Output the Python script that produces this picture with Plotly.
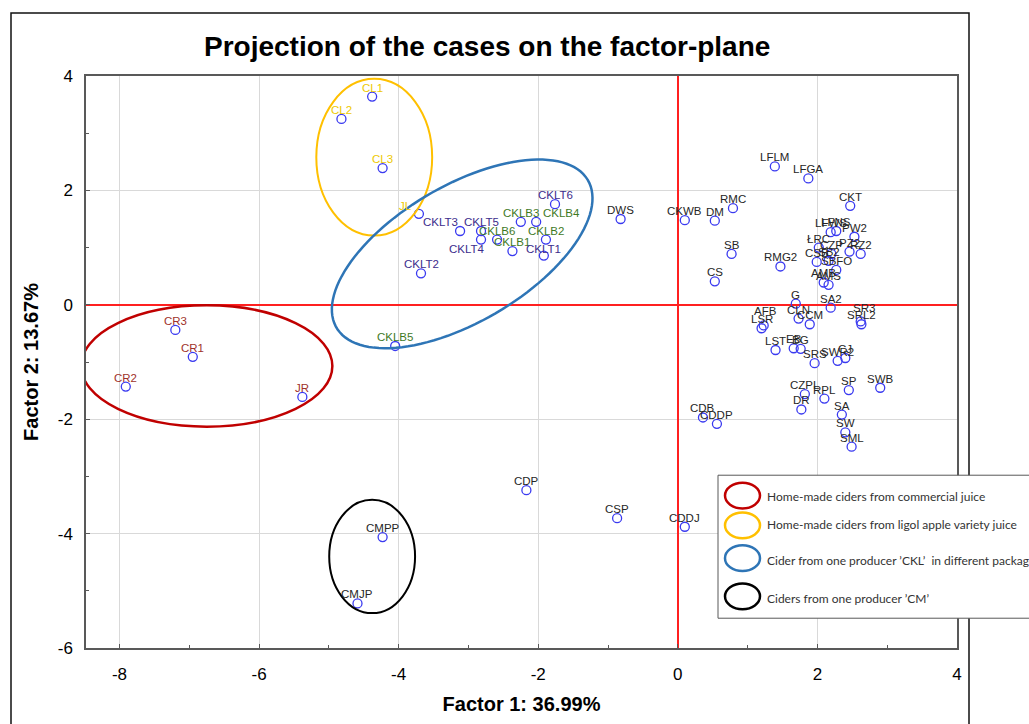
import numpy as np
import plotly.graph_objects as go

# ---------------- data ----------------
names = ["CL1", "CL2", "CL3", "JL",
         "CKLT3", "CKLT5", "CKLT4", "CKLB6", "CKLB1", "CKLB3", "CKLB4", "CKLB2", "CKLT1", "CKLT6", "CKLT2", "CKLB5",
         "CR3", "CR1", "CR2", "JR",
         "DWS", "CKWB", "DM", "RMC", "SB", "CS",
         "LFLM", "LFGA", "CKT", "RMG2",
         "LFWS", "LFNS", "PW2", "ŁRC", "CZP", "RZ2", "PZ2", "CSB", "SB2", "SBFO", "AMB", "AMS",
         "G", "SA2", "AFB", "LSR", "CLN", "CCM", "SR3", "SRL2",
         "LST", "EB", "BG", "SRS", "SWR2", "CJ",
         "SP", "SWB", "CZPL", "RPL", "DR", "SA", "SW", "SML",
         "CDB", "CDDP", "CDDJ", "CDP", "CSP", "CMPP", "CMJP"]
factor1 = [-4.38, -4.82, -4.23, -3.71,
           -3.12, -2.82, -2.82, -2.59, -2.37, -2.25, -2.03, -1.89, -1.92, -1.76, -3.68, -4.05,
           -7.20, -6.95, -7.91, -5.38,
           -0.82, 0.10, 0.53, 0.79, 0.77, 0.53,
           1.39, 1.87, 2.47, 1.47,
           2.19, 2.27, 2.53, 2.02, 2.20, 2.62, 2.46, 1.99, 2.16, 2.27, 2.09, 2.16,
           1.69, 2.19, 1.23, 1.20, 1.73, 1.89, 2.62, 2.63,
           1.40, 1.66, 1.76, 1.96, 2.29, 2.40,
           2.45, 2.90, 1.82, 2.10, 1.77, 2.35, 2.40, 2.49,
           0.36, 0.56, 0.10, -2.17, -0.87, -4.23, -4.59]
factor2 = [3.64, 3.25, 2.39, 1.59,
           1.29, 1.29, 1.14, 1.14, 0.94, 1.45, 1.45, 1.14, 0.86, 1.76, 0.55, -0.72,
           -0.44, -0.91, -1.43, -1.61,
           1.50, 1.48, 1.47, 1.69, 0.89, 0.41,
           2.42, 2.21, 1.73, 0.67,
           1.27, 1.29, 1.19, 1.00, 0.89, 0.89, 0.93, 0.75, 0.77, 0.61, 0.39, 0.35,
           0.02, -0.05, -0.36, -0.41, -0.24, -0.34, -0.29, -0.34,
           -0.79, -0.76, -0.77, -1.02, -0.98, -0.93,
           -1.49, -1.45, -1.56, -1.64, -1.83, -1.92, -2.23, -2.48,
           -1.97, -2.08, -3.88, -3.24, -3.73, -4.06, -5.22]

x_ticks = [-8, -6, -4, -2, 0, 2, 4]
y_ticks = [-6, -4, -2, 0, 2, 4]
x_title = "Factor 1: 36.99%"
y_title = "Factor 2: 13.67%"
title = "Projection of the cases on the factor-plane"

legend_items = ["Home-made ciders from commercial juice",
                "Home-made ciders from ligol apple variety juice",
                "Cider from one producer \u2019CKL\u2019  in different packages",
                "Ciders from one producer \u2019CM\u2019"]

# ---------------- layout geometry ----------------
W, H = 1029, 724
ML, MR, MT, MB = 86, 72, 76, 72
PW, PH = W - ML - MR, H - MT - MB
XR = [-8.48, 4.0]
YR = [-6.0, 4.0]
KX = PW / (XR[1] - XR[0])   # px per unit
KY = PH / (YR[1] - YR[0])


def pap(px, py):
    return (px - ML) / PW, (H - MB - py) / PH


RED = "#C00000"
YEL = "#FFC000"
BLU = "#2E75B6"
BLK = "#000000"


def label_color(n):
    if n in ("CL1", "CL2", "CL3", "JL"):
        return "#EEC900"
    if n.startswith("CR") or n == "JR":
        return "#A0322A"
    if n.startswith("CKLB"):
        return "#3F7A1F"
    if n.startswith("CKLT"):
        return "#3C2C8C"
    return "#262626"


nudge = {"CKLT3": (-20, 9), "CKLT4": (-14, -9), "CKLB4": (25, 9), "JL": (-13, 8),
         "AFB": (2, 14), "SR3": (3, 13), "CKLT1": (0, 7)}

fig = go.Figure()
fig.add_trace(go.Scatter(
    x=factor1, y=factor2, mode="markers",
    marker=dict(symbol="circle-open", size=9, color="#3A3AF0", line=dict(width=1.3, color="#3A3AF0")),
    showlegend=False, hoverinfo="text", text=names))

annotations = []
for n, a, b in zip(names, factor1, factor2):
    dx, dy = nudge.get(n, (0, 9))
    annotations.append(dict(x=a, y=b, xref="x", yref="y", text=n, showarrow=False,
                            xshift=dx, yshift=dy,
                            font=dict(family="Arial", size=11.5, color=label_color(n))))

shapes = []
# group ellipses (cx, cy, rx, ry in data units)
for cx, cy, rx, ry, col, w in [(-4.35, 2.58, 0.83, 1.37, YEL, 2),
                               (-6.75, -1.07, 1.80, 1.06, RED, 2.5),
                               (-4.38, -4.40, 0.615, 0.99, BLK, 2)]:
    shapes.append(dict(type="circle", xref="x", yref="y", x0=cx - rx, x1=cx + rx,
                       y0=cy - ry, y1=cy + ry, line=dict(color=col, width=w), layer="above"))

# rotated blue ellipse (semi-axes in px, angle in deg)
bcx, bcy, ba, bb, bang = -3.09, 0.89, 146, 68.5, 30.7
t = np.linspace(0, 2 * np.pi, 120)
th = np.radians(bang)
ex = bcx + (ba * np.cos(t) * np.cos(th) - bb * np.sin(t) * np.sin(th)) / KX
ey = bcy + (ba * np.cos(t) * np.sin(th) + bb * np.sin(t) * np.cos(th)) / KY
path = "M " + " L ".join(f"{u:.4f},{v:.4f}" for u, v in zip(ex, ey)) + " Z"
shapes.append(dict(type="path", xref="x", yref="y", path=path, line=dict(color=BLU, width=2.5), layer="above"))

# outer frame of the figure
x0, y0 = pap(11, 12.5)
x1, y1 = pap(969, 740)
shapes.append(dict(type="rect", xref="paper", yref="paper", x0=x0, y0=y1, x1=x1, y1=y0,
                   line=dict(color="#111", width=1.5), layer="above"))

# legend box
lx0, ly0 = pap(718, 478)
lx1, ly1 = pap(1045, 622)
shapes.append(dict(type="rect", xref="paper", yref="paper", x0=lx0, y0=ly1, x1=lx1, y1=ly0,
                   fillcolor="white", line=dict(color="#595959", width=1), layer="above"))
icon_y = [498.5, 528.5, 561.5, 600]
text_y = [499, 528, 564, 602]
for col, iy, ty, txt in zip([RED, YEL, BLU, BLK], icon_y, text_y, legend_items):
    ax0, ay0 = pap(725, iy - 13)
    ax1, ay1 = pap(760, iy + 13)
    shapes.append(dict(type="circle", xref="paper", yref="paper", x0=ax0, x1=ax1, y0=ay1, y1=ay0,
                       line=dict(color=col, width=2.5), layer="above"))
    tx, tyy = pap(765, ty)
    annotations.append(dict(x=tx, y=tyy, xref="paper", yref="paper", text=txt, showarrow=False,
                            xanchor="left", yanchor="middle",
                            font=dict(family="Lato", size=12, color="#333")))

# title
ttx, tty = pap(487, 46)
annotations.append(dict(x=ttx, y=tty, xref="paper", yref="paper", text="<b>" + title + "</b>",
                        showarrow=False, xanchor="center", yanchor="middle",
                        font=dict(family="Arial", size=28, color="#000")))

axis_common = dict(showgrid=True, gridcolor="#D9D9D9", gridwidth=1,
                   zeroline=True, zerolinecolor="#FF2020", zerolinewidth=1.5,
                   showline=True, linecolor="#595959", linewidth=1.5, mirror=True,
                   ticks="inside", ticklen=4, tickcolor="#595959",
                   tickfont=dict(family="Arial", size=17, color="#000"))

fig.update_layout(
    width=W, height=H, autosize=False,
    margin=dict(l=ML, r=MR, t=MT, b=MB),
    paper_bgcolor="white", plot_bgcolor="white",
    showlegend=False,
    xaxis=dict(range=XR, tickvals=x_ticks, ticktext=[str(v) for v in x_ticks],
               minor=dict(dtick=1, ticks="inside", ticklen=3, tickcolor="#595959", showgrid=False),
               title=dict(text="<b>" + x_title + "</b>", font=dict(family="Arial", size=20, color="#000"), standoff=14),
               ticklabelstandoff=10, **axis_common),
    yaxis=dict(range=YR, tickvals=y_ticks, ticktext=[str(v) for v in y_ticks],
               minor=dict(dtick=1, ticks="inside", ticklen=3, tickcolor="#595959", showgrid=False),
               title=dict(text="<b>" + y_title + "</b>", font=dict(family="Arial", size=20, color="#000"), standoff=14),
               ticklabelstandoff=8, **axis_common),
    shapes=shapes, annotations=annotations,
)

fig.write_html("out.html")
